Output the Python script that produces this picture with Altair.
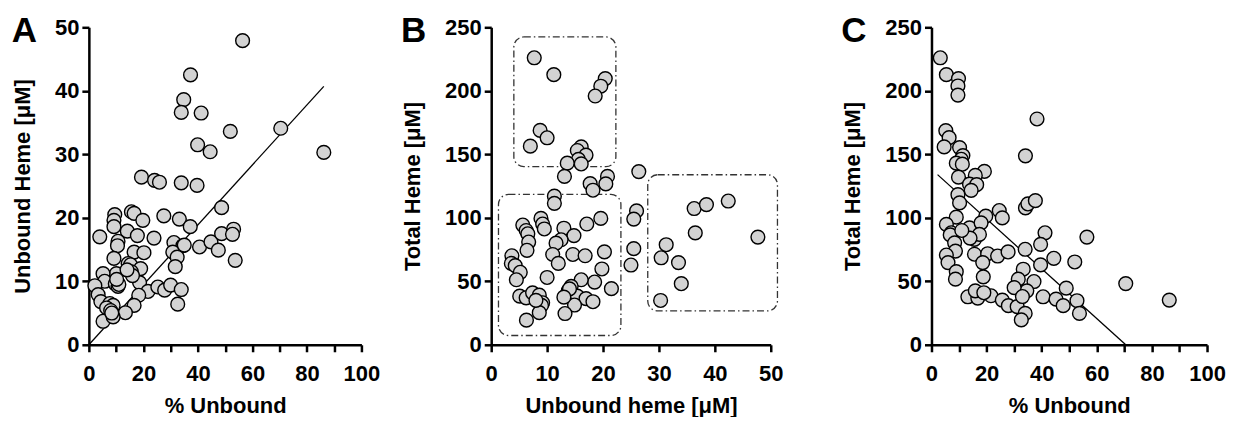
import altair as alt
import pandas as pd

FONT = "Liberation Sans"

# ---------------- Panel A : % Unbound vs Unbound heme ----------------
a_pct = [56.4, 37.3, 34.8, 33.9, 41.2, 51.9, 70.4, 86.2, 39.9, 44.5,
         19.3, 24.1, 25.9, 33.9, 39.7, 48.7, 9.5, 9.2, 9.2, 15.6,
         16.6, 19.8, 27.5, 33.2, 37.2, 4.0, 14.1, 17.8, 23.9, 10.7,
         10.5, 31.2, 34.5, 40.6, 44.8, 48.7, 53.1, 52.7, 47.5, 53.7,
         16.6, 20.2, 30.8, 32.4, 31.7, 9.2, 14.4, 15.3, 19.0, 15.6,
         10.1, 5.2, 5.8, 2.2, 18.6, 9.7, 10.7, 21.7, 25.3, 27.8,
         30.0, 33.9, 32.6, 18.3, 16.6, 13.4, 3.4, 4.4, 7.7, 8.9,
         6.5, 8.0, 5.2, 8.9, 16.0, 14.0, 11.0, 8.4, 10.2, 35.0]
a_unbound = [47.9, 42.5, 38.6, 36.6, 36.5, 33.6, 34.1, 30.3, 31.5, 30.4,
             26.4, 25.9, 25.6, 25.5, 25.1, 21.6, 20.5, 19.6, 18.6, 20.95,
             20.7, 19.6, 20.3, 19.8, 18.6, 17.0, 17.9, 17.2, 16.8, 16.3,
             15.6, 16.1, 15.6, 15.4, 16.2, 17.5, 18.2, 17.4, 14.9, 13.3,
             14.6, 14.5, 14.6, 13.8, 12.3, 13.6, 12.8, 12.6, 12.0, 11.5,
             11.2, 11.2, 10.0, 9.3, 9.8, 9.6, 9.2, 8.4, 9.1, 8.6,
             9.4, 8.7, 6.4, 7.8, 6.2, 5.05, 7.9, 6.8, 6.5, 6.2,
             5.8, 5.4, 3.7, 4.4, 10.9, 11.8, 9.5, 5.0, 10.3, 15.7]
a_line_x = [0, 86.2]
a_line_y = [0, 40.7]

# ---------------- Panel B : Unbound heme vs Total heme ----------------
b_unbound = [7.7, 11.2, 20.4, 19.6, 18.6, 8.75, 10.0, 7.0, 16.1, 15.4,
             16.96, 15.6, 16.1, 13.6,
             13.1, 26.4, 20.8, 20.5, 17.7, 18.2, 11.3, 11.3, 26.0, 25.5,
             25.5, 25.0,
             30.4, 31.3, 30.3, 36.3, 38.5, 42.4, 36.5, 47.7, 33.5, 34.0,
             5.65, 6.25, 6.55, 6.7, 6.4, 8.9, 9.2, 9.5, 3.7, 3.6,
             4.3, 5.2, 4.5, 10.0, 13.0, 14.8, 12.5, 11.6, 11.0, 12.0,
             14.6, 16.8, 17.1, 19.6, 20.25, 19.8, 18.5, 21.5, 16.1, 14.3,
             13.8, 15.4, 16.96, 18.2, 14.9, 13.2, 5.1, 6.25, 7.4, 8.6,
             9.2, 9.0, 8.6, 6.3, 8.0, 14.0, 13.0]
b_total = [226.0, 212.7, 209.6, 203.6, 195.9, 168.8, 163.0, 156.4, 155.8, 153.0,
           149.4, 146.0, 142.4, 143.0,
           132.6, 136.4, 132.6, 126.7, 126.9, 121.7, 117.0, 111.4, 105.4, 99.0,
           75.7, 62.8,
           68.5, 78.8, 34.9, 107.3, 110.4, 113.2, 88.1, 84.8, 64.7, 48.1,
           94.3, 90.0, 87.4, 80.9, 74.4, 99.5, 95.1, 91.2, 70.1, 64.1,
           62.3, 57.1, 51.2, 53.0, 91.8, 86.0, 82.7, 80.0, 71.1, 64.1,
           71.1, 70.1, 95.1, 99.5, 73.2, 59.7, 49.4, 44.2, 51.2, 46.0,
           42.6, 38.3, 36.4, 33.9, 31.3, 24.6, 38.3, 37.0, 40.9, 39.1,
           33.1, 31.0, 25.3, 19.4, 35.0, 44.0, 37.5]
box_x1 = [4.05, 1.3, 28.0]
box_x2 = [22.3, 23.2, 51.2]
box_y1 = [140.3, 7.3, 26.7]
box_y2 = [242.4, 118.4, 133.9]

# ---------------- Panel C : % Unbound vs Total heme ----------------
c_pct = [3.2, 5.4, 9.8, 9.6, 9.6, 5.2, 6.4, 4.6, 10.2, 11.4,
         10.8, 9.0, 11.2, 38.3, 34.1, 19.2, 9.8, 15.9, 13.8, 16.4,
         14.4, 9.6, 10.2, 34.1, 35.0, 37.7, 24.6, 19.7, 25.7, 9.0,
         5.4, 7.2, 6.8, 13.8, 18.0, 15.6, 17.4, 8.4, 8.7, 5.4,
         6.0, 9.0, 8.7, 15.6, 20.4, 24.0, 27.8, 18.6, 18.8, 34.0,
         41.2, 39.6, 39.6, 44.4, 52.0, 56.4, 33.3, 31.5, 37.2, 34.6,
         30.0, 13.2, 16.8, 15.9, 21.6, 25.7, 27.9, 31.1, 34.0, 32.6,
         40.5, 45.2, 47.8, 48.9, 52.8, 53.7, 70.5, 86.3, 14.0, 11.0,
         19.0, 33.0]
c_total = [226.0, 212.7, 209.6, 203.8, 196.6, 168.6, 163.1, 155.8, 155.3, 149.0,
           146.1, 143.0, 142.2, 177.8, 148.8, 136.5, 132.0, 133.4, 126.5, 126.1,
           121.6, 118.2, 111.7, 107.8, 110.9, 113.5, 105.7, 101.3, 99.9, 100.5,
           94.8, 88.2, 86.5, 92.1, 96.0, 83.0, 86.9, 80.3, 73.8, 70.7,
           64.7, 57.6, 51.7, 71.3, 71.7, 69.9, 73.1, 64.7, 53.5, 75.2,
           88.2, 79.1, 62.9, 68.1, 65.2, 84.8, 59.5, 51.7, 49.8, 42.5,
           45.0, 37.8, 36.8, 42.5, 38.6, 35.2, 30.8, 30.0, 24.7, 19.6,
           37.8, 36.0, 30.8, 44.6, 34.7, 24.7, 48.2, 35.2, 84.0, 90.0,
           41.0, 38.0]
c_line_x = [2.2, 70.5]
c_line_y = [134.0, 0.0]


def xaxis(title, values, label_every=None):
    kw = dict(title=title, values=values, grid=False, labelFlush=False,
              labelOverlap=False, labelPadding=12, titlePadding=11)
    if label_every:
        kw["labelExpr"] = f"datum.value % {label_every} == 0 ? datum.label : ''"
    return alt.Axis(**kw)


def yaxis(title, values):
    return alt.Axis(title=title, values=values, grid=False, labelFlush=False,
                    labelOverlap=False, labelPadding=3, titlePadding=20)


POINT = dict(size=190, fill="#d3d3d3", stroke="black", strokeWidth=1.4,
             opacity=1)


def letter(txt, dx):
    return alt.Chart(pd.DataFrame({"t": [txt]})).mark_text(
        font=FONT, fontSize=35, fontWeight="bold", align="right",
        baseline="alphabetic", color="black"
    ).encode(text="t:N", x=alt.value(dx), y=alt.value(15))


H = 318

# Panel A
dfA = pd.DataFrame({"x": a_pct, "y": a_unbound})
lnA = pd.DataFrame({"x": a_line_x, "y": a_line_y})
xA = alt.X("x:Q", scale=alt.Scale(domain=[0, 100], nice=False),
           axis=xaxis("% Unbound", list(range(0, 101, 10)), 20))
yA = alt.Y("y:Q", scale=alt.Scale(domain=[0, 50], nice=False),
           axis=yaxis("Unbound Heme [μM]", list(range(0, 51, 10))))
A = alt.layer(
    alt.Chart(lnA).mark_line(color="black", strokeWidth=1.3).encode(x=xA, y=yA),
    alt.Chart(dfA).mark_circle(**POINT).encode(x=xA, y=yA),
    letter("A", -52),
).properties(width=273, height=H)

# Panel B
dfB = pd.DataFrame({"x": b_unbound, "y": b_total})
boxes = pd.DataFrame({"x1": box_x1, "x2": box_x2, "y1": box_y1, "y2": box_y2})
xB = alt.X("x:Q", scale=alt.Scale(domain=[0, 50], nice=False),
           axis=xaxis("Unbound heme [μM]", list(range(0, 51, 10))))
yB = alt.Y("y:Q", scale=alt.Scale(domain=[0, 250], nice=False),
           axis=yaxis("Total Heme [μM]", list(range(0, 251, 50))))
B = alt.layer(
    alt.Chart(boxes).mark_rect(fill=None, fillOpacity=0, stroke="#333333",
                               strokeWidth=1.3, strokeDash=[7, 3, 1.5, 3],
                               cornerRadius=10, clip=False).encode(
        x=alt.X("x1:Q", scale=alt.Scale(domain=[0, 50], nice=False)),
        x2="x2:Q",
        y=alt.Y("y1:Q", scale=alt.Scale(domain=[0, 250], nice=False)),
        y2="y2:Q"),
    alt.Chart(dfB).mark_circle(**POINT).encode(x=xB, y=yB),
    letter("B", -65),
).properties(width=280, height=H)

# Panel C
dfC = pd.DataFrame({"x": c_pct, "y": c_total})
lnC = pd.DataFrame({"x": c_line_x, "y": c_line_y})
xC = alt.X("x:Q", scale=alt.Scale(domain=[0, 100], nice=False),
           axis=xaxis("% Unbound", list(range(0, 101, 10)), 20))
yC = alt.Y("y:Q", scale=alt.Scale(domain=[0, 250], nice=False),
           axis=yaxis("Total Heme [μM]", list(range(0, 251, 50))))
C = alt.layer(
    alt.Chart(lnC).mark_line(color="black", strokeWidth=1.3).encode(x=xC, y=yC),
    alt.Chart(dfC).mark_circle(**POINT).encode(x=xC, y=yC),
    letter("C", -65),
).properties(width=276, height=H)

chart = alt.hconcat(
    alt.hconcat(A, B, spacing=20), C, spacing=57
).properties(
    padding={"left": 3, "top": 6, "right": 0, "bottom": 0},
    background="white"
).configure_view(
    stroke=None
).configure_axis(
    domainColor="black", domainWidth=2.5, tickColor="black", tickWidth=2.5,
    tickSize=7, labelFont=FONT, labelFontSize=22, labelFontWeight="bold",
    labelColor="black", titleFont=FONT, titleFontSize=22,
    titleFontWeight="bold", titleColor="black"
)

chart.save("out.html", embed_options={"renderer": "svg", "actions": False})
